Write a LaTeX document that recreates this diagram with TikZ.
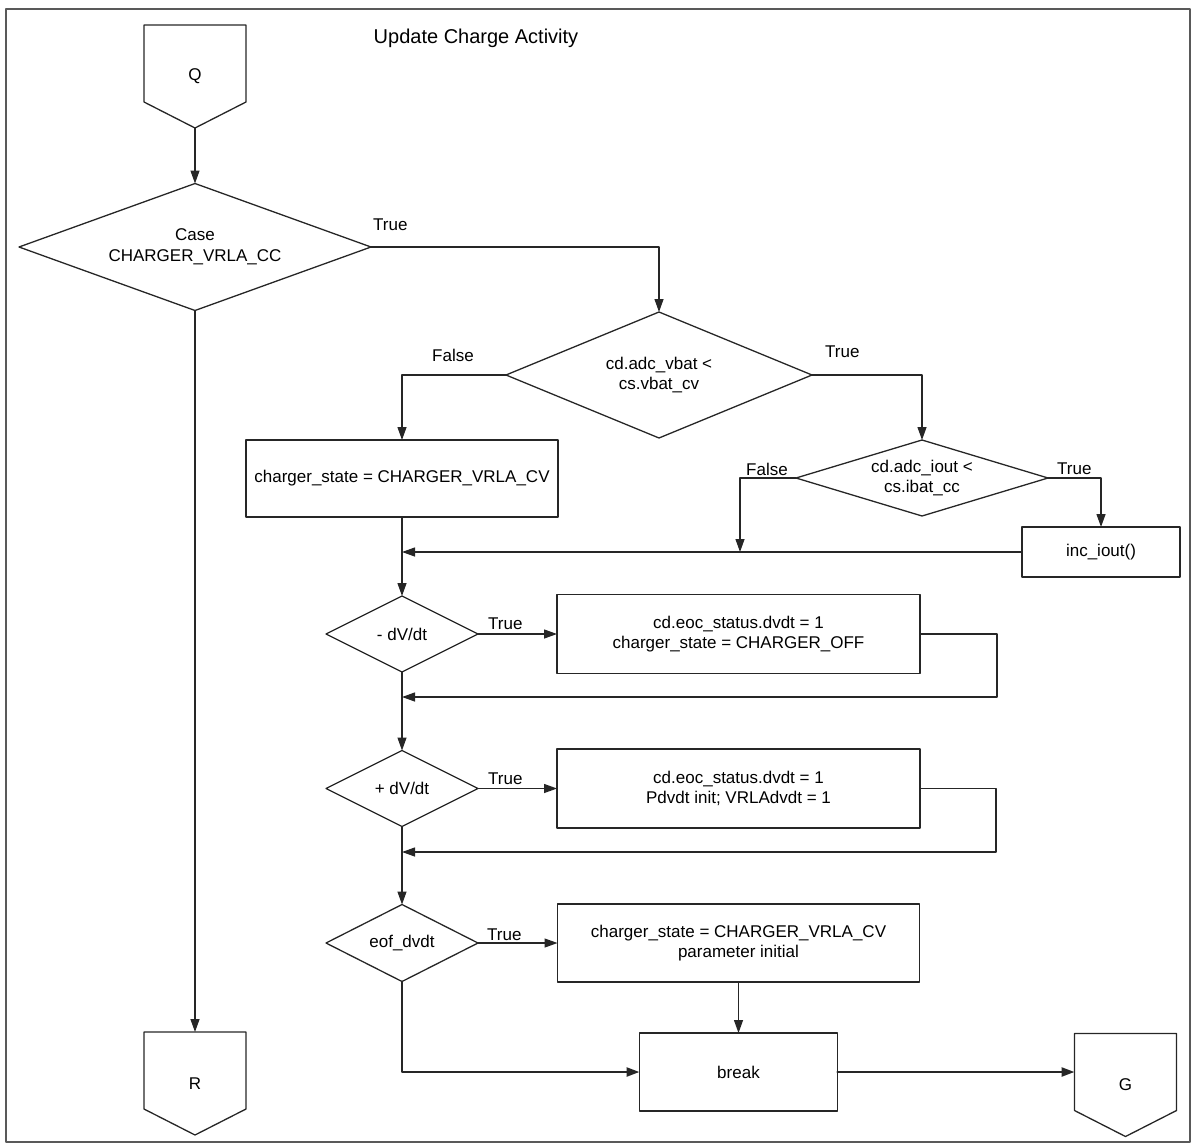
\documentclass[tikz,border=0pt]{standalone}
\usepackage{fontspec}
\setmainfont{Liberation Sans}
\usetikzlibrary{shapes.geometric,arrows.meta,calc}

\tikzset{
  wire/.style={draw=black!85, line width=1.3pt},
  flow/.style={wire, -{Triangle[length=13pt,width=9pt]}},
  heavy/.style={line width=2.4pt},
  decision/.style={diamond, wire, inner sep=0pt, outer sep=0pt, align=center},
  process/.style={rectangle, wire, inner sep=0pt, outer sep=0pt, align=center},
  offpage/.style={rectangle, minimum width=102pt, minimum height=103pt, inner sep=0pt, outer sep=0pt},
  lbl/.style={inner sep=0pt},
}

\begin{document}
\begin{tikzpicture}[x=1pt, y=-1pt, line join=round, line cap=round,
    font=\fontsize{17}{20.5}\selectfont]
    \useasboundingbox (0,0) rectangle (1198,1145);

    % frame and title
    \draw[draw=black!65, line width=1.2pt] (6,9) rectangle (1190,1142);
    \node[font=\fontsize{20}{24}\selectfont] (title) at (476,38) {Update Charge Activity};

    % off-page connectors Q, R, G
    \node[offpage] (q) at (195,76.5) {Q};
    \draw[wire] (q.north west) -- (q.north east) -- ($(q.south east)+(0,-26)$)
        -- (q.south) -- ($(q.south west)+(0,-26)$) -- cycle;
    \node[offpage] (r) at (195,1083.5) {R};
    \draw[wire] (r.north west) -- (r.north east) -- ($(r.south east)+(0,-26)$)
        -- (r.south) -- ($(r.south west)+(0,-26)$) -- cycle;
    \node[offpage] (g) at (1125.5,1085) {G};
    \draw[wire] (g.north west) -- (g.north east) -- ($(g.south east)+(0,-26)$)
        -- (g.south) -- ($(g.south west)+(0,-26)$) -- cycle;

    % decisions
    \node[decision, minimum width=352pt, minimum height=127pt, aspect=2.78] (d1) at (195,247)
        {Case\\CHARGER\_VRLA\_CC};
    \node[decision, minimum width=306pt, minimum height=126pt, aspect=2.43] (d2) at (659,375)
        {cd.adc\_vbat <\\cs.vbat\_cv};
    \node[decision, minimum width=252pt, minimum height=76pt, aspect=3.3] (d3) at (922,478)
        {cd.adc\_iout <\\cs.ibat\_cc};
    \node[decision, minimum width=152pt, minimum height=76pt, aspect=2] (d4) at (402,634) {- dV/dt};
    \node[decision, minimum width=152pt, minimum height=76pt, aspect=2] (d5) at (402,788.5) {+ dV/dt};
    \node[decision, minimum width=152pt, minimum height=77pt, aspect=2] (d6) at (402,943) {eof\_dvdt};

    % processes
    \node[process, minimum width=312pt, minimum height=77pt] (b1) at (402,478.5)
        {charger\_state = CHARGER\_VRLA\_CV};
    \node[process, minimum width=158pt, minimum height=50pt] (inc) at (1101,552) {inc\_iout()};
    \node[process, minimum width=363pt, minimum height=79pt] (e1) at (738.5,634)
        {cd.eoc\_status.dvdt = 1\\charger\_state = CHARGER\_OFF};
    \node[process, minimum width=363pt, minimum height=79pt] (e2) at (738.5,788.5)
        {cd.eoc\_status.dvdt = 1\\Pdvdt init; VRLAdvdt = 1};
    \node[process, minimum width=362pt, minimum height=78pt] (e3) at (738.5,943)
        {charger\_state = CHARGER\_VRLA\_CV\\parameter initial};
    \node[process, minimum width=198pt, minimum height=78pt] (brk) at (738.5,1072) {break};

    % branch labels
    \node[lbl, anchor=west] (t1) at (373,225) {True};
    \node[lbl, anchor=west] (f2) at (432,355) {False};
    \node[lbl, anchor=west] (t2) at (825,352) {True};
    \node[lbl, anchor=west] (f3) at (746,469) {False};
    \node[lbl, anchor=west] (t3) at (1057,469) {True};
    \node[lbl, anchor=west] (t4) at (488,624) {True};
    \node[lbl, anchor=west] (t5) at (488,779) {True};
    \node[lbl, anchor=west] (t6) at (487,935) {True};

    % join points on the main line
    \coordinate (m1) at (740,552);
    \coordinate (m4) at (402,697);
    \coordinate (m5) at (402,852);

    % connectors
    \draw[flow] (q.south) -- (d1.north);
    \draw[flow] (d1.south) -- (r.north);
    \draw[flow] (d1.east) -| (d2.north);
    \draw[flow] (d2.west) -| (b1.north);
    \draw[flow] (d2.east) -| (d3.north);
    \draw[flow] (d3.west) -| (m1);
    \draw[flow] (d3.east) -| (inc.north);
    \draw[flow] (inc.west) -- (inc.west -| b1.south);
    \draw[flow] (b1.south) -- (d4.north);

    % dV/dt checks
    \draw[flow] (d4.east) -- (e1.west);
    \draw[flow] (e1.east) -- ++(77,0) |- (m4);
    \draw[flow] (d4.south) -- (d5.north);
    \draw[flow] (d5.east) -- (e2.west);
    \draw[flow] (e2.east) -- ++(76,0) |- (m5);
    \draw[flow] (d5.south) -- (d6.north);
    \draw[flow] (d6.east) -- (e3.west);
    \draw[flow] (e3.south) -- (brk.north);
    \draw[flow, heavy] (d6.south) |- (brk.west);
    \draw[flow, heavy] (brk.east) -- (brk.east -| g.west);
\end{tikzpicture}
\end{document}
